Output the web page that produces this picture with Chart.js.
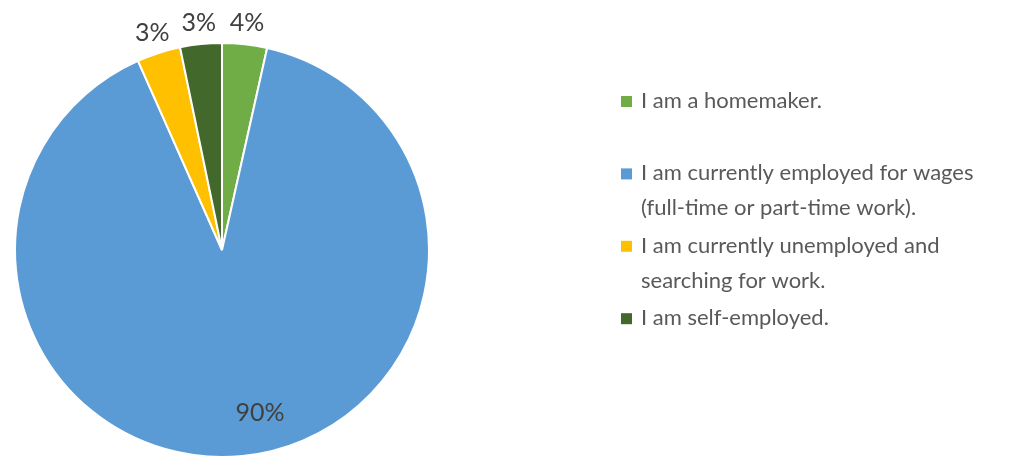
<!DOCTYPE html>
<html>
<head>
<meta charset="utf-8">
<script src="https://cdn.jsdelivr.net/npm/chart.js@4/dist/chart.umd.min.js"></script>
<style>
  html, body { margin: 0; padding: 0; background: #ffffff; }
  #wrap { width: 1021px; height: 459px; position: relative; }
</style>
</head>
<body>
<div id="wrap"><canvas id="c" width="1021" height="459"></canvas></div>
<script>
// ---- data ----
const categories = [
  ["I am a homemaker."],
  ["I am currently employed for wages", "(full-time or part-time work)."],
  ["I am currently unemployed and", "searching for work."],
  ["I am self-employed."]
];
const shares = [3.5, 89.85, 3.4, 3.25];
const sliceColors = ["#70AD47", "#5B9BD5", "#FFC000", "#43682B"];

const FONT = "Lato, 'Open Sans', sans-serif";

// slice value labels (drawn from arc geometry)
const sliceLabelPlugin = {
  id: 'sliceLabels',
  afterDatasetsDraw(chart) {
    const ctx = chart.ctx;
    const meta = chart.getDatasetMeta(0);
    const ds = chart.data.datasets[0].data;
    const total = ds.reduce((a, b) => a + b, 0);
    ctx.save();
    ctx.font = "25px " + FONT;
    ctx.fillStyle = "#404040";
    ctx.textAlign = "center";
    ctx.textBaseline = "middle";
    meta.data.forEach((arc, i) => {
      const p = arc.getProps(['x', 'y', 'startAngle', 'endAngle', 'outerRadius'], true);
      const pct = Math.round(ds[i] / total * 100) + "%";
      let mid = (p.startAngle + p.endAngle) / 2;
      let dist;
      if (ds[i] / total > 0.2) {
        mid -= 0.13;            // best-fit inside placement
        dist = p.outerRadius * 0.81;
      } else {
        dist = p.outerRadius + 21;  // outside end
      }
      ctx.fillText(pct, p.x + Math.cos(mid) * dist, p.y + Math.sin(mid) * dist);
    });
    ctx.restore();
  }
};

// legend on the right
const sideLegendPlugin = {
  id: 'sideLegend',
  afterDraw(chart) {
    const ctx = chart.ctx;
    const labels = chart.data.labels;
    const colors = chart.data.datasets[0].backgroundColor;
    const x0 = 621, textX = 641, firstY = 101, pitch = 72.4, lineH = 35;
    ctx.save();
    ctx.font = "22px " + FONT;
    ctx.fillStyle = "#595959";
    ctx.textBaseline = "middle";
    ctx.textAlign = "left";
    labels.forEach((lines, i) => {
      const y = firstY + pitch * i;
      ctx.fillStyle = colors[i];
      ctx.fillRect(x0, y - 5, 11, 11);
      ctx.fillStyle = "#595959";
      lines.forEach((ln, j) => ctx.fillText(ln, textX, y + j * lineH));
    });
    ctx.restore();
  }
};

new Chart(document.getElementById('c'), {
  type: 'pie',
  data: {
    labels: categories,
    datasets: [{
      data: shares,
      backgroundColor: sliceColors,
      borderColor: '#ffffff',
      borderWidth: 2
    }]
  },
  options: {
    responsive: false,
    animation: false,
    layout: { padding: { left: 14, right: 591, top: 42, bottom: 1 } },
    plugins: {
      legend: { display: false },
      tooltip: { enabled: false }
    }
  },
  plugins: [sliceLabelPlugin, sideLegendPlugin]
});
</script>
</body>
</html>
